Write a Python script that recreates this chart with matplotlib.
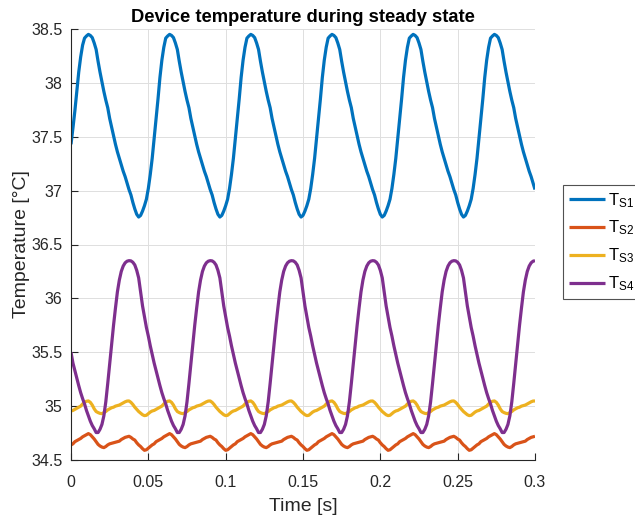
import numpy as np
import matplotlib
matplotlib.use("Agg")
import matplotlib.pyplot as plt

plt.rcParams['font.family'] = ['Liberation Sans', 'DejaVu Sans']
plt.rcParams['mathtext.fontset'] = 'custom'
plt.rcParams['mathtext.rm'] = 'Liberation Sans'
plt.rcParams['mathtext.it'] = 'Liberation Sans:italic'

# Sample times [s]
time_s = np.linspace(0.0, 0.3, 241)

# Sensor temperatures [°C], one row per 0.0525 s cycle
t_s1 = [
    37.43, 37.58, 37.74, 37.92, 38.10, 38.24, 38.35, 38.415, 38.435, 38.45, 38.44, 38.42, 38.37, 38.31,
    38.20, 38.10, 38.01, 37.92, 37.84, 37.77, 37.67, 37.59, 37.51, 37.43, 37.36, 37.30, 37.24, 37.18,
    37.13, 37.07, 37.01, 36.96, 36.89, 36.83, 36.78, 36.755, 36.77, 36.81, 36.86, 36.92, 37.02, 37.15,
    37.30, 37.48, 37.66, 37.85, 38.05, 38.21, 38.33, 38.415, 38.435, 38.45, 38.44, 38.42, 38.37, 38.31,
    38.20, 38.10, 38.01, 37.92, 37.84, 37.77, 37.67, 37.59, 37.51, 37.43, 37.36, 37.30, 37.24, 37.18,
    37.13, 37.07, 37.01, 36.96, 36.89, 36.83, 36.78, 36.755, 36.77, 36.81, 36.86, 36.92, 37.02, 37.15,
    37.30, 37.48, 37.66, 37.85, 38.05, 38.21, 38.33, 38.415, 38.435, 38.45, 38.44, 38.42, 38.37, 38.31,
    38.20, 38.10, 38.01, 37.92, 37.84, 37.77, 37.67, 37.59, 37.51, 37.43, 37.36, 37.30, 37.24, 37.18,
    37.13, 37.07, 37.01, 36.96, 36.89, 36.83, 36.78, 36.755, 36.77, 36.81, 36.86, 36.92, 37.02, 37.15,
    37.30, 37.48, 37.66, 37.85, 38.05, 38.21, 38.33, 38.415, 38.435, 38.45, 38.44, 38.42, 38.37, 38.31,
    38.20, 38.10, 38.01, 37.92, 37.84, 37.77, 37.67, 37.59, 37.51, 37.43, 37.36, 37.30, 37.24, 37.18,
    37.13, 37.07, 37.01, 36.96, 36.89, 36.83, 36.78, 36.755, 36.77, 36.81, 36.86, 36.92, 37.02, 37.15,
    37.30, 37.48, 37.66, 37.85, 38.05, 38.21, 38.33, 38.415, 38.435, 38.45, 38.44, 38.42, 38.37, 38.31,
    38.20, 38.10, 38.01, 37.92, 37.84, 37.77, 37.67, 37.59, 37.51, 37.43, 37.36, 37.30, 37.24, 37.18,
    37.13, 37.07, 37.01, 36.96, 36.89, 36.83, 36.78, 36.755, 36.77, 36.81, 36.86, 36.92, 37.02, 37.15,
    37.30, 37.48, 37.66, 37.85, 38.05, 38.21, 38.33, 38.415, 38.435, 38.45, 38.44, 38.42, 38.37, 38.31,
    38.20, 38.10, 38.01, 37.92, 37.84, 37.77, 37.67, 37.59, 37.51, 37.43, 37.36, 37.30, 37.24, 37.18,
    37.13, 37.07, 37.01,
]

t_s2 = [
    34.64, 34.65, 34.67, 34.68, 34.69, 34.70, 34.715, 34.725, 34.735, 34.745, 34.735, 34.715, 34.695, 34.67,
    34.645, 34.63, 34.62, 34.615, 34.625, 34.64, 34.65, 34.655, 34.66, 34.665, 34.67, 34.675, 34.69, 34.70,
    34.71, 34.715, 34.72, 34.71, 34.695, 34.685, 34.66, 34.64, 34.625, 34.605, 34.59, 34.595, 34.61, 34.625,
    34.64, 34.65, 34.67, 34.68, 34.69, 34.70, 34.715, 34.725, 34.735, 34.745, 34.735, 34.715, 34.695, 34.67,
    34.645, 34.63, 34.62, 34.615, 34.625, 34.64, 34.65, 34.655, 34.66, 34.665, 34.67, 34.675, 34.69, 34.70,
    34.71, 34.715, 34.72, 34.71, 34.695, 34.685, 34.66, 34.64, 34.625, 34.605, 34.59, 34.595, 34.61, 34.625,
    34.64, 34.65, 34.67, 34.68, 34.69, 34.70, 34.715, 34.725, 34.735, 34.745, 34.735, 34.715, 34.695, 34.67,
    34.645, 34.63, 34.62, 34.615, 34.625, 34.64, 34.65, 34.655, 34.66, 34.665, 34.67, 34.675, 34.69, 34.70,
    34.71, 34.715, 34.72, 34.71, 34.695, 34.685, 34.66, 34.64, 34.625, 34.605, 34.59, 34.595, 34.61, 34.625,
    34.64, 34.65, 34.67, 34.68, 34.69, 34.70, 34.715, 34.725, 34.735, 34.745, 34.735, 34.715, 34.695, 34.67,
    34.645, 34.63, 34.62, 34.615, 34.625, 34.64, 34.65, 34.655, 34.66, 34.665, 34.67, 34.675, 34.69, 34.70,
    34.71, 34.715, 34.72, 34.71, 34.695, 34.685, 34.66, 34.64, 34.625, 34.605, 34.59, 34.595, 34.61, 34.625,
    34.64, 34.65, 34.67, 34.68, 34.69, 34.70, 34.715, 34.725, 34.735, 34.745, 34.735, 34.715, 34.695, 34.67,
    34.645, 34.63, 34.62, 34.615, 34.625, 34.64, 34.65, 34.655, 34.66, 34.665, 34.67, 34.675, 34.69, 34.70,
    34.71, 34.715, 34.72, 34.71, 34.695, 34.685, 34.66, 34.64, 34.625, 34.605, 34.59, 34.595, 34.61, 34.625,
    34.64, 34.65, 34.67, 34.68, 34.69, 34.70, 34.715, 34.725, 34.735, 34.745, 34.735, 34.715, 34.695, 34.67,
    34.645, 34.63, 34.62, 34.615, 34.625, 34.64, 34.65, 34.655, 34.66, 34.665, 34.67, 34.675, 34.69, 34.70,
    34.71, 34.715, 34.72,
]

t_s3 = [
    34.955, 34.96, 34.97, 34.98, 34.99, 35.00, 35.02, 35.035, 35.045, 35.048, 35.035, 35.01, 34.975, 34.95,
    34.94, 34.933, 34.93, 34.94, 34.95, 34.965, 34.975, 34.985, 34.99, 35.00, 35.005, 35.01, 35.02, 35.03,
    35.04, 35.047, 35.048, 35.035, 35.015, 34.99, 34.97, 34.95, 34.935, 34.92, 34.912, 34.915, 34.93, 34.945,
    34.955, 34.96, 34.97, 34.98, 34.99, 35.00, 35.02, 35.035, 35.045, 35.048, 35.035, 35.01, 34.975, 34.95,
    34.94, 34.933, 34.93, 34.94, 34.95, 34.965, 34.975, 34.985, 34.99, 35.00, 35.005, 35.01, 35.02, 35.03,
    35.04, 35.047, 35.048, 35.035, 35.015, 34.99, 34.97, 34.95, 34.935, 34.92, 34.912, 34.915, 34.93, 34.945,
    34.955, 34.96, 34.97, 34.98, 34.99, 35.00, 35.02, 35.035, 35.045, 35.048, 35.035, 35.01, 34.975, 34.95,
    34.94, 34.933, 34.93, 34.94, 34.95, 34.965, 34.975, 34.985, 34.99, 35.00, 35.005, 35.01, 35.02, 35.03,
    35.04, 35.047, 35.048, 35.035, 35.015, 34.99, 34.97, 34.95, 34.935, 34.92, 34.912, 34.915, 34.93, 34.945,
    34.955, 34.96, 34.97, 34.98, 34.99, 35.00, 35.02, 35.035, 35.045, 35.048, 35.035, 35.01, 34.975, 34.95,
    34.94, 34.933, 34.93, 34.94, 34.95, 34.965, 34.975, 34.985, 34.99, 35.00, 35.005, 35.01, 35.02, 35.03,
    35.04, 35.047, 35.048, 35.035, 35.015, 34.99, 34.97, 34.95, 34.935, 34.92, 34.912, 34.915, 34.93, 34.945,
    34.955, 34.96, 34.97, 34.98, 34.99, 35.00, 35.02, 35.035, 35.045, 35.048, 35.035, 35.01, 34.975, 34.95,
    34.94, 34.933, 34.93, 34.94, 34.95, 34.965, 34.975, 34.985, 34.99, 35.00, 35.005, 35.01, 35.02, 35.03,
    35.04, 35.047, 35.048, 35.035, 35.015, 34.99, 34.97, 34.95, 34.935, 34.92, 34.912, 34.915, 34.93, 34.945,
    34.955, 34.96, 34.97, 34.98, 34.99, 35.00, 35.02, 35.035, 35.045, 35.048, 35.035, 35.01, 34.975, 34.95,
    34.94, 34.933, 34.93, 34.94, 34.95, 34.965, 34.975, 34.985, 34.99, 35.00, 35.005, 35.01, 35.02, 35.03,
    35.04, 35.047, 35.048,
]

t_s4 = [
    35.50, 35.40, 35.33, 35.26, 35.19, 35.125, 35.07, 35.02, 34.96, 34.91, 34.86, 34.82, 34.79, 34.755,
    34.755, 34.785, 34.83, 34.91, 35.04, 35.21, 35.39, 35.57, 35.75, 35.91, 36.06, 36.17, 36.25, 36.30,
    36.33, 36.345, 36.35, 36.348, 36.335, 36.31, 36.26, 36.19, 36.06, 35.93, 35.83, 35.73, 35.65, 35.56,
    35.48, 35.40, 35.33, 35.26, 35.19, 35.125, 35.07, 35.02, 34.96, 34.91, 34.86, 34.82, 34.79, 34.755,
    34.755, 34.785, 34.83, 34.91, 35.04, 35.21, 35.39, 35.57, 35.75, 35.91, 36.06, 36.17, 36.25, 36.30,
    36.33, 36.345, 36.35, 36.348, 36.335, 36.31, 36.26, 36.19, 36.06, 35.93, 35.83, 35.73, 35.65, 35.56,
    35.48, 35.40, 35.33, 35.26, 35.19, 35.125, 35.07, 35.02, 34.96, 34.91, 34.86, 34.82, 34.79, 34.755,
    34.755, 34.785, 34.83, 34.91, 35.04, 35.21, 35.39, 35.57, 35.75, 35.91, 36.06, 36.17, 36.25, 36.30,
    36.33, 36.345, 36.35, 36.348, 36.335, 36.31, 36.26, 36.19, 36.06, 35.93, 35.83, 35.73, 35.65, 35.56,
    35.48, 35.40, 35.33, 35.26, 35.19, 35.125, 35.07, 35.02, 34.96, 34.91, 34.86, 34.82, 34.79, 34.755,
    34.755, 34.785, 34.83, 34.91, 35.04, 35.21, 35.39, 35.57, 35.75, 35.91, 36.06, 36.17, 36.25, 36.30,
    36.33, 36.345, 36.35, 36.348, 36.335, 36.31, 36.26, 36.19, 36.06, 35.93, 35.83, 35.73, 35.65, 35.56,
    35.48, 35.40, 35.33, 35.26, 35.19, 35.125, 35.07, 35.02, 34.96, 34.91, 34.86, 34.82, 34.79, 34.755,
    34.755, 34.785, 34.83, 34.91, 35.04, 35.21, 35.39, 35.57, 35.75, 35.91, 36.06, 36.17, 36.25, 36.30,
    36.33, 36.345, 36.35, 36.348, 36.335, 36.31, 36.26, 36.19, 36.06, 35.93, 35.83, 35.73, 35.65, 35.56,
    35.48, 35.40, 35.33, 35.26, 35.19, 35.125, 35.07, 35.02, 34.96, 34.91, 34.86, 34.82, 34.79, 34.755,
    34.755, 34.785, 34.83, 34.91, 35.04, 35.21, 35.39, 35.57, 35.75, 35.91, 36.06, 36.17, 36.25, 36.30,
    36.33, 36.345, 36.35,
]

series_labels = [r'T$_{\mathrm{S1}}$', r'T$_{\mathrm{S2}}$', r'T$_{\mathrm{S3}}$', r'T$_{\mathrm{S4}}$']
series_colors = ['#0072BD', '#D95319', '#EDB120', '#7E2F8E']

x_ticks = [0, 0.05, 0.1, 0.15, 0.2, 0.25, 0.3]
x_tick_labels = ['0', '0.05', '0.1', '0.15', '0.2', '0.25', '0.3']
y_ticks = [34.5, 35, 35.5, 36, 36.5, 37, 37.5, 38, 38.5]
y_tick_labels = ['34.5', '35', '35.5', '36', '36.5', '37', '37.5', '38', '38.5']

W, H = 635, 515
fig = plt.figure(figsize=(W / 100, H / 100), dpi=100)
ax = fig.add_axes([71 / W, 1 - 460 / H, 464 / W, 431 / H])

axis_color = '#262626'
for values, label, color in zip([t_s1, t_s2, t_s3, t_s4], series_labels, series_colors):
    ax.plot(time_s, values, color=color, lw=2.3, label=label,
            solid_joinstyle='round', solid_capstyle='butt')

ax.set_xlim(0, 0.3)
ax.set_ylim(34.5, 38.5)
ax.set_xticks(x_ticks)
ax.set_xticklabels(x_tick_labels)
ax.set_yticks(y_ticks)
ax.set_yticklabels(y_tick_labels)

ax.grid(True, color='#dedede', lw=0.7)
ax.set_axisbelow(True)
for side in ('top', 'right'):
    ax.spines[side].set_visible(False)
for side in ('left', 'bottom'):
    ax.spines[side].set_color(axis_color)
    ax.spines[side].set_linewidth(0.8)
ax.tick_params(direction='in', length=5, width=0.8, colors=axis_color,
               labelsize=11.5)
ax.tick_params(axis='x', pad=10.5)
ax.tick_params(axis='y', pad=6)

ax.set_xlabel('Time [s]', fontsize=14, color=axis_color, labelpad=6)
ax.set_ylabel('Temperature [°C]', fontsize=14, color=axis_color, labelpad=1)
ax.set_title('Device temperature during steady state', fontsize=13.2,
             fontweight='bold', color='black', pad=5)

leg = ax.legend(loc='upper left', bbox_to_anchor=(563 / W, 1 - 185 / H),
                bbox_transform=fig.transFigure, frameon=True, fancybox=False,
                edgecolor=axis_color, fontsize=12, handlelength=2.15,
                handletextpad=0.2, labelspacing=0.55, borderpad=0.35,
                borderaxespad=0)
leg.get_frame().set_linewidth(0.8)
for line in leg.get_lines():
    line.set_linewidth(2.3)

fig.savefig('out.png', dpi=100)
